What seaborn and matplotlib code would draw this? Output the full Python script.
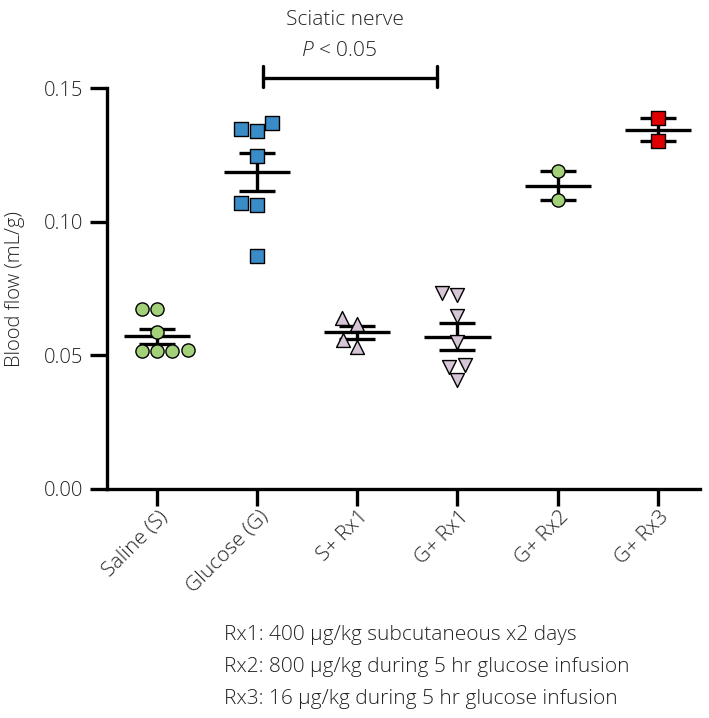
import numpy as np
import pandas as pd
import matplotlib
matplotlib.use('Agg')
import matplotlib.pyplot as plt
import matplotlib.transforms as mtransforms
import seaborn as sns

# values (mL/g)
groups = ['Saline (S)', 'Glucose (G)', 'S+ Rx1', 'G+ Rx1', 'G+ Rx2', 'G+ Rx3']
saline = [0.0672, 0.0672, 0.0587, 0.0515, 0.0515, 0.0515, 0.0521]
glucose = [0.1346, 0.1340, 0.1371, 0.1246, 0.1070, 0.1062, 0.0873]
s_rx1 = [0.0639, 0.0618, 0.0556, 0.0531]
g_rx1 = [0.0733, 0.0726, 0.0648, 0.0550, 0.0465, 0.0456, 0.0407]
g_rx2 = [0.1190, 0.1082]
g_rx3 = [0.1389, 0.1302]

markers = ['o', 's', '^', 'v', 'o', 's']
colors = ['#a3d17a', '#3a8cc6', '#d5c5d6', '#d5c5d6', '#a3d17a', '#e00000']
sizes = [9.5, 10.5, 10, 10, 9.5, 10.5]

footnotes = ['Rx1: 400 \u00b5g/kg subcutaneous x2 days',
             'Rx2: 800 \u00b5g/kg during 5 hr glucose infusion',
             'Rx3: 16 \u00b5g/kg during 5 hr glucose infusion']

vals = [saline, glucose, s_rx1, g_rx1, g_rx2, g_rx3]
df = pd.DataFrame({'group': np.repeat(groups, [len(v) for v in vals]),
                   'flow': np.concatenate(vals)})

sns.set_style('ticks')
plt.rcParams['font.family'] = ['Open Sans', 'DejaVu Sans']
plt.rcParams['font.weight'] = 'light'
plt.rcParams['axes.labelweight'] = 'light'
plt.rcParams['mathtext.fontset'] = 'custom'
plt.rcParams['mathtext.it'] = 'Open Sans:italic:light'
plt.rcParams['mathtext.rm'] = 'Open Sans:light'
plt.rcParams['text.color'] = '#222222'
plt.rcParams['xtick.color'] = 'black'
plt.rcParams['ytick.color'] = 'black'
plt.rcParams['xtick.labelcolor'] = '#222222'
plt.rcParams['ytick.labelcolor'] = '#222222'
plt.rcParams['axes.labelcolor'] = '#222222'
plt.rcParams['axes.edgecolor'] = 'black'
fs = 15

fig = plt.figure(figsize=(7.09, 7.18), dpi=100)
ax = fig.add_axes([0.151, 0.319, 0.836, 0.558])

# mean +/- SEM
stats = df.groupby('group', sort=False)['flow'].agg(['mean', 'sem'])
xpos = np.arange(len(groups))
ax.hlines(stats['mean'], xpos - 0.33, xpos + 0.33, color='black', lw=2.4, zorder=1)
ax.errorbar(xpos, stats['mean'], yerr=stats['sem'], fmt='none', ecolor='black',
            elinewidth=2.4, capsize=13, capthick=2.4, zorder=1)

for g, m, c, s in zip(groups, markers, colors, sizes):
    sns.swarmplot(data=df[df.group == g], x='group', y='flow', order=groups,
                  marker=m, color=c, size=s, edgecolor='black', linewidth=1,
                  ax=ax, zorder=3)

ax.set_xlim(-0.5, 5.42)
ax.set_ylim(0, 0.15)
ax.set_yticks([0, 0.05, 0.10, 0.15])
ax.set_yticklabels(['0.00', '0.05', '0.10', '0.15'], fontsize=14.5)
ax.set_xticks(xpos)
ax.set_xticklabels([])
# rotated category labels, nudged right of the ticks like the original
lab_tr = ax.get_xaxis_transform() + mtransforms.ScaledTranslation(8 / 100, -25 / 100, fig.dpi_scale_trans)
for i, g in enumerate(groups):
    ax.text(i, 0, g, transform=lab_tr, rotation=45, ha='right', va='center',
            rotation_mode='anchor', fontsize=fs, clip_on=False)
ax.set_xlabel('')
ax.set_ylabel('Blood flow (mL/g)', fontsize=14.5, labelpad=14)
ax.tick_params(width=2.4, length=12)
ax.tick_params(axis='y', pad=5)
for side in ['left', 'bottom']:
    ax.spines[side].set_linewidth(2.4)
sns.despine(ax=ax)

# significance bracket
ax.plot([1.06, 2.8], [0.154, 0.154], color='black', lw=2.4, clip_on=False)
ax.plot([1.06, 1.06], [0.1505, 0.1585], color='black', lw=2.4, clip_on=False)
ax.plot([2.8, 2.8], [0.1505, 0.1585], color='black', lw=2.4, clip_on=False)
fig.text(0.487, 0.972, 'Sciatic nerve', ha='center', va='center', fontsize=fs)
fig.text(0.478, 0.929, r'$P$ < 0.05', ha='center', va='center', fontsize=fs)

for i, t in enumerate(footnotes):
    fig.text(0.316, 0.116 - i * 0.045, t, ha='left', va='center', fontsize=fs)

fig.savefig('out.png', dpi=100)
